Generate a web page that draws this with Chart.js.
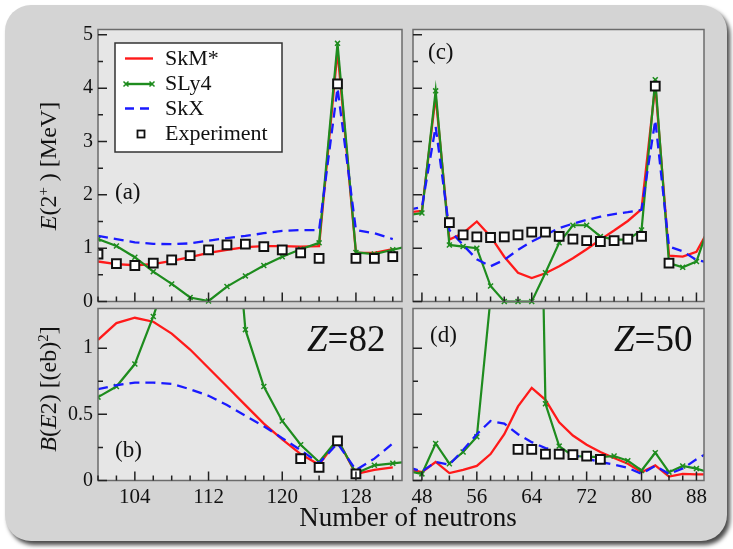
<!DOCTYPE html>
<html>
<head>
<meta charset="utf-8">
<script src="https://cdn.jsdelivr.net/npm/chart.js@4.4.1/dist/chart.umd.min.js"></script>
<style>
  body { margin: 0; background: #fff; width: 733px; height: 549px; position: relative; overflow: hidden;
         font-family: "Liberation Serif", "DejaVu Serif", serif; color: #111; }
  #frame { position: absolute; left: 5px; top: 5px; width: 722px; height: 536px; background: #d4d4d4;
           border-radius: 26px; box-shadow: 3px 4px 4px #4a4a4a; }
  canvas { position: absolute; left: 0; top: 0; }
  .t { position: absolute; white-space: nowrap; line-height: 1; }
  .rot { transform: translate(-50%, -50%) rotate(-90deg); }
  sup { font-size: 0.62em; vertical-align: 0.55em; line-height: 0; }
</style>
</head>
<body>
<div id="frame"></div>
<canvas id="pa" width="733" height="549"></canvas>
<canvas id="pb" width="733" height="549"></canvas>
<canvas id="pc" width="733" height="549"></canvas>
<canvas id="pd" width="733" height="549"></canvas>

<div class="t rot" style="left:48px; top:166px; font-size:24px;"><i>E</i>(2<sup>+</sup> ) [MeV]</div>
<div class="t rot" style="left:48px; top:389px; font-size:24px;"><i>B</i>(<i>E</i>2) [(eb)<sup>2</sup>]</div>
<div class="t" style="left:408px; top:517px; font-size:27px; transform: translate(-50%, -50%);">Number of neutrons</div>
<div class="t" style="left:115px; top:180px; font-size:23px;">(a)</div>
<div class="t" style="left:115px; top:438px; font-size:23px;">(b)</div>
<div class="t" style="left:428px; top:40px; font-size:23px;">(c)</div>
<div class="t" style="left:430px; top:323px; font-size:23px;">(d)</div>
<div class="t" style="left:307px; top:320px; font-size:37px;"><i>Z</i>=82</div>
<div class="t" style="left:614px; top:320px; font-size:37px;"><i>Z</i>=50</div>

<script>
// ---- данные: Pb (Z=82) ----
const nPb = [100, 102, 104, 106, 108, 110, 112, 114, 116, 118, 120, 122, 124, 126, 128, 130, 132];
const nPbLong = [100, 102, 104, 106, 108, 110, 112, 114, 116, 118, 120, 122, 124, 126, 128, 130, 132, 134];
const e2PbSkM  = [0.75, 0.70, 0.68, 0.70, 0.76, 0.83, 0.91, 0.97, 1.02, 1.04, 1.04, 1.03, 1.04, 4.70, 0.91, 0.91, 0.98];
const e2PbSLy4 = [1.17, 1.04, 0.83, 0.56, 0.33, 0.075, 0.01, 0.28, 0.48, 0.675, 0.84, 0.98, 1.10, 4.84, 0.92, 0.89, 0.97, 1.05];
const e2PbSkX  = [1.23, 1.17, 1.11, 1.08, 1.075, 1.09, 1.14, 1.19, 1.23, 1.28, 1.325, 1.34, 1.34, 4.00, 1.34, 1.28, 1.17];
const e2PbExp  = [0.89, 0.71, 0.675, 0.72, 0.78, 0.86, 0.97, 1.06, 1.075, 1.03, 0.97, 0.91, 0.81, 4.08, 0.81, 0.81, 0.84];

const be2PbSkM  = [1.063, 1.19, 1.23, 1.20, 1.11, 0.99, 0.85, 0.71, 0.57, 0.43, 0.31, 0.20, 0.12, 0.31, 0.05, 0.08, 0.10];
const be2PbSLy4 = [0.63, 0.71, 0.88, 1.24, 1.65, 2.5, 2.9, 2.75, 1.14, 0.71, 0.45, 0.27, 0.14, 0.31, 0.055, 0.115, 0.13, 0.145];
const be2PbSkX  = [0.69, 0.72, 0.74, 0.74, 0.73, 0.69, 0.64, 0.57, 0.49, 0.41, 0.32, 0.23, 0.13, 0.28, 0.08, 0.165, 0.28];
const nPbExpB   = [122, 124, 126, 128];
const be2PbExp  = [0.165, 0.10, 0.30, 0.05];

// ---- данные: Sn (Z=50) ----
const nSn = [46, 48, 50, 52, 54, 56, 58, 60, 62, 64, 66, 68, 70, 72, 74, 76, 78, 80, 82, 84, 86, 88, 90];
const e2SnSkM  = [1.67, 1.70, 3.85, 1.16, 1.28, 1.50, 1.22, 0.84, 0.54, 0.44, 0.53, 0.66, 0.81, 0.98, 1.16, 1.33, 1.51, 1.73, 4.05, 0.86, 0.84, 0.93, 1.40];
const e2SnSLy4 = [1.62, 1.66, 3.95, 1.06, 1.03, 1.00, 0.29, 0.0, 0.0, 0.0, 0.54, 1.10, 1.43, 1.43, 1.22, 1.16, 1.16, 1.34, 4.16, 0.72, 0.64, 0.75, 1.50];
const e2SnSkX  = [1.72, 1.77, 3.28, 1.34, 1.06, 0.79, 0.66, 0.78, 0.97, 1.125, 1.25, 1.375, 1.46, 1.53, 1.59, 1.64, 1.675, 1.72, 3.40, 1.03, 0.94, 0.78, 0.72];
const nSnExpC  = [52, 54, 56, 58, 60, 62, 64, 66, 68, 70, 72, 74, 76, 78, 80, 82, 84];
const e2SnExp  = [1.48, 1.25, 1.21, 1.20, 1.21, 1.25, 1.30, 1.30, 1.22, 1.17, 1.14, 1.125, 1.14, 1.17, 1.22, 4.04, 0.72];

const be2SnSkM  = [0.085, 0.063, 0.14, 0.056, 0.08, 0.11, 0.20, 0.35, 0.56, 0.70, 0.61, 0.44, 0.34, 0.27, 0.215, 0.17, 0.127, 0.063, 0.114, 0.03, 0.05, 0.046, 0.046];
const be2SnSLy4 = [0.07, 0.05, 0.28, 0.127, 0.215, 0.33, 1.38, 3.0, 5.0, 6.0, 0.58, 0.26, 0.185, 0.18, 0.177, 0.185, 0.15, 0.076, 0.21, 0.063, 0.11, 0.09, 0.06];
const be2SnSkX  = [0.10, 0.068, 0.14, 0.12, 0.23, 0.35, 0.45, 0.43, 0.35, 0.29, 0.245, 0.22, 0.195, 0.165, 0.14, 0.12, 0.096, 0.05, 0.11, 0.05, 0.09, 0.16, 0.22];
const nSnExpD   = [62, 64, 66, 68, 70, 72, 74];
const be2SnExp  = [0.235, 0.235, 0.20, 0.20, 0.195, 0.185, 0.16];

// подписи осей
const xLabelsPb = [104, 112, 120, 128];
const xLabelsSn = [48, 56, 64, 72, 80, 88];
const yLabelsE2 = [0, 1, 2, 3, 4, 5];
const yLabelsBE2 = [0, 0.5, 1];

const SERIF = '"Liberation Serif", "Times New Roman", serif';
Chart.defaults.font.family = SERIF;
Chart.defaults.color = '#111';

const RED = '#ff1a1a', GREEN = '#1e8c1e', BLUE = '#1a1aff';

function pts(xs, ys) {
  return ys.map((y, i) => ({ x: xs[i], y: y }));
}

function steps(from, to, step) {
  const out = [];
  for (let v = from; v <= to + 1e-9; v += step) out.push(Math.round(v * 100) / 100);
  return out;
}

// фон панели, рамка и тики внутрь
const frameTicks = {
  id: 'frameTicks',
  beforeDraw(chart) {
    const a = chart.chartArea, ctx = chart.ctx;
    ctx.save();
    ctx.fillStyle = '#e6e6e6';
    ctx.fillRect(a.left, a.top, a.right - a.left, a.bottom - a.top);
    ctx.restore();
  },
  afterDraw(chart, args, o) {
    const a = chart.chartArea, ctx = chart.ctx;
    const xs = chart.scales.x, ys = chart.scales.y;
    ctx.save();
    ctx.strokeStyle = '#6b6b6b';
    ctx.lineWidth = 1.5;
    ctx.strokeRect(a.left, a.top, a.right - a.left, a.bottom - a.top);
    ctx.strokeStyle = '#222';
    ctx.beginPath();
    o.xMinor.forEach(v => { const p = xs.getPixelForValue(v); ctx.moveTo(p, a.bottom); ctx.lineTo(p, a.bottom - 5); });
    o.xMajor.forEach(v => { const p = xs.getPixelForValue(v); ctx.moveTo(p, a.bottom); ctx.lineTo(p, a.bottom - 9); });
    o.yMinor.forEach(v => { const p = ys.getPixelForValue(v); ctx.moveTo(a.left, p); ctx.lineTo(a.left + 5, p); });
    o.yMajor.forEach(v => { const p = ys.getPixelForValue(v); ctx.moveTo(a.left, p); ctx.lineTo(a.left + 9, p); });
    ctx.stroke();
    ctx.restore();
  }
};

// легенда внутри панели (a)
const boxLegend = {
  id: 'boxLegend',
  afterDraw(chart) {
    const ctx = chart.ctx;
    ctx.save();
    ctx.fillStyle = '#fff';
    ctx.fillRect(115, 43, 167, 109);
    ctx.strokeStyle = '#333';
    ctx.lineWidth = 1.5;
    ctx.strokeRect(115, 43, 167, 109);

    ctx.lineWidth = 2.4;
    ctx.strokeStyle = RED;
    ctx.beginPath(); ctx.moveTo(125, 58.5); ctx.lineTo(153, 58.5); ctx.stroke();

    ctx.strokeStyle = GREEN;
    ctx.beginPath(); ctx.moveTo(125, 84); ctx.lineTo(153, 84); ctx.stroke();
    ctx.lineWidth = 1.5;
    [126, 152].forEach(x => {
      ctx.beginPath();
      ctx.moveTo(x - 2.5, 81.5); ctx.lineTo(x + 2.5, 86.5);
      ctx.moveTo(x - 2.5, 86.5); ctx.lineTo(x + 2.5, 81.5);
      ctx.stroke();
    });

    ctx.lineWidth = 2.4;
    ctx.strokeStyle = BLUE;
    ctx.setLineDash([9, 6]);
    ctx.beginPath(); ctx.moveTo(125, 108.5); ctx.lineTo(155, 108.5); ctx.stroke();
    ctx.setLineDash([]);

    ctx.strokeStyle = '#111';
    ctx.lineWidth = 1.8;
    ctx.strokeRect(137.5, 130.5, 7, 7);

    ctx.fillStyle = '#111';
    ctx.font = '22px ' + SERIF;
    ctx.textBaseline = 'middle';
    ctx.fillText('SkM*', 165, 59);
    ctx.fillText('SLy4', 165, 84);
    ctx.fillText('SkX', 165, 109);
    ctx.fillText('Experiment', 165, 134);
    ctx.restore();
  }
};

function modelSets(xs, xsLong, skm, sly4, skx, xe, exp) {
  const clip = { left: 0, top: 0, right: 0, bottom: 8 };
  return [
    { label: 'Experiment', data: pts(xe, exp), showLine: false, order: 0,
      pointStyle: 'rect', pointRadius: 6.2, pointBorderWidth: 2,
      pointBorderColor: '#111', pointBackgroundColor: '#fff', clip: clip },
    { label: 'SkX', data: pts(xs, skx), showLine: true, order: 1, borderColor: BLUE, borderWidth: 2.3,
      borderDash: [10, 6], pointRadius: 0, tension: 0, clip: clip },
    { label: 'SLy4', data: pts(xsLong, sly4), showLine: true, order: 2, borderColor: GREEN, borderWidth: 2.2,
      pointStyle: 'crossRot', pointRadius: 3.5, pointBorderWidth: 1.5, pointBorderColor: GREEN,
      tension: 0, clip: clip },
    { label: 'SkM*', data: pts(xs, skm), showLine: true, order: 3, borderColor: RED, borderWidth: 2.3,
      pointRadius: 0, tension: 0, clip: clip }
  ];
}

function makePanel(id, area, xr, yr, datasets, xLabels, yLabels, ticks, extra) {
  const W = 733, H = 549;
  return new Chart(document.getElementById(id), {
    type: 'scatter',
    data: { datasets: datasets },
    plugins: [frameTicks].concat(extra || []),
    options: {
      responsive: false,
      animation: false,
      events: [],
      layout: { padding: { left: 0, top: area[1], right: W - area[2], bottom: 0 } },
      plugins: { legend: { display: false }, tooltip: { enabled: false }, frameTicks: ticks },
      scales: {
        x: {
          type: 'linear', min: xr[0], max: xr[1],
          grid: { display: false, drawTicks: false }, border: { display: false },
          ticks: { display: !!xLabels, padding: 4, font: { size: 21 }, color: '#111', autoSkip: false, maxRotation: 0 },
          afterBuildTicks: s => { s.ticks = (xLabels || []).map(v => ({ value: v })); },
          afterFit: s => { s.height = H - area[3]; }
        },
        y: {
          type: 'linear', min: yr[0], max: yr[1],
          grid: { display: false, drawTicks: false }, border: { display: false },
          ticks: { display: !!yLabels, padding: 5, font: { size: 20 }, color: '#111', autoSkip: false,
                   callback: v => String(v) },
          afterBuildTicks: s => { s.ticks = (yLabels || []).map(v => ({ value: v })); },
          afterFit: s => { s.width = area[0]; }
        }
      }
    }
  });
}

function drawAll() {
  const ticksE2Pb = { xMajor: xLabelsPb, xMinor: steps(100, 132, 2), yMajor: yLabelsE2, yMinor: steps(0.5, 4.5, 1) };
  const ticksBE2Pb = { xMajor: xLabelsPb, xMinor: steps(100, 132, 2), yMajor: yLabelsBE2, yMinor: [0.25, 0.75] };
  const ticksE2Sn = { xMajor: xLabelsSn, xMinor: steps(48, 88, 2), yMajor: yLabelsE2, yMinor: steps(0.5, 4.5, 1) };
  const ticksBE2Sn = { xMajor: xLabelsSn, xMinor: steps(48, 88, 2), yMajor: yLabelsBE2, yMinor: [0.25, 0.75] };

  makePanel('pa', [98, 29.5, 402, 301.5], [100, 133], [0, 5.1],
    modelSets(nPb, nPbLong, e2PbSkM, e2PbSLy4, e2PbSkX, nPb, e2PbExp), null, yLabelsE2, ticksE2Pb, [boxLegend]);
  makePanel('pb', [98, 308.5, 402, 480.5], [100, 133], [0, 1.3],
    modelSets(nPb, nPbLong, be2PbSkM, be2PbSLy4, be2PbSkX, nPbExpB, be2PbExp), xLabelsPb, yLabelsBE2, ticksBE2Pb);
  makePanel('pc', [413, 29.5, 704, 301.5], [46.7, 89.1], [0, 5.1],
    modelSets(nSn, nSn, e2SnSkM, e2SnSLy4, e2SnSkX, nSnExpC, e2SnExp), null, null, ticksE2Sn);
  makePanel('pd', [413, 308.5, 704, 480.5], [46.7, 89.1], [0, 1.3],
    modelSets(nSn, nSn, be2SnSkM, be2SnSLy4, be2SnSkX, nSnExpD, be2SnExp), xLabelsSn, null, ticksBE2Sn);
}

// ждём системный шрифт, чтобы canvas рисовал засечками
if (document.fonts && document.fonts.load) {
  document.fonts.load('22px "Liberation Serif"').then(drawAll, drawAll);
} else {
  drawAll();
}
</script>
</body>
</html>
